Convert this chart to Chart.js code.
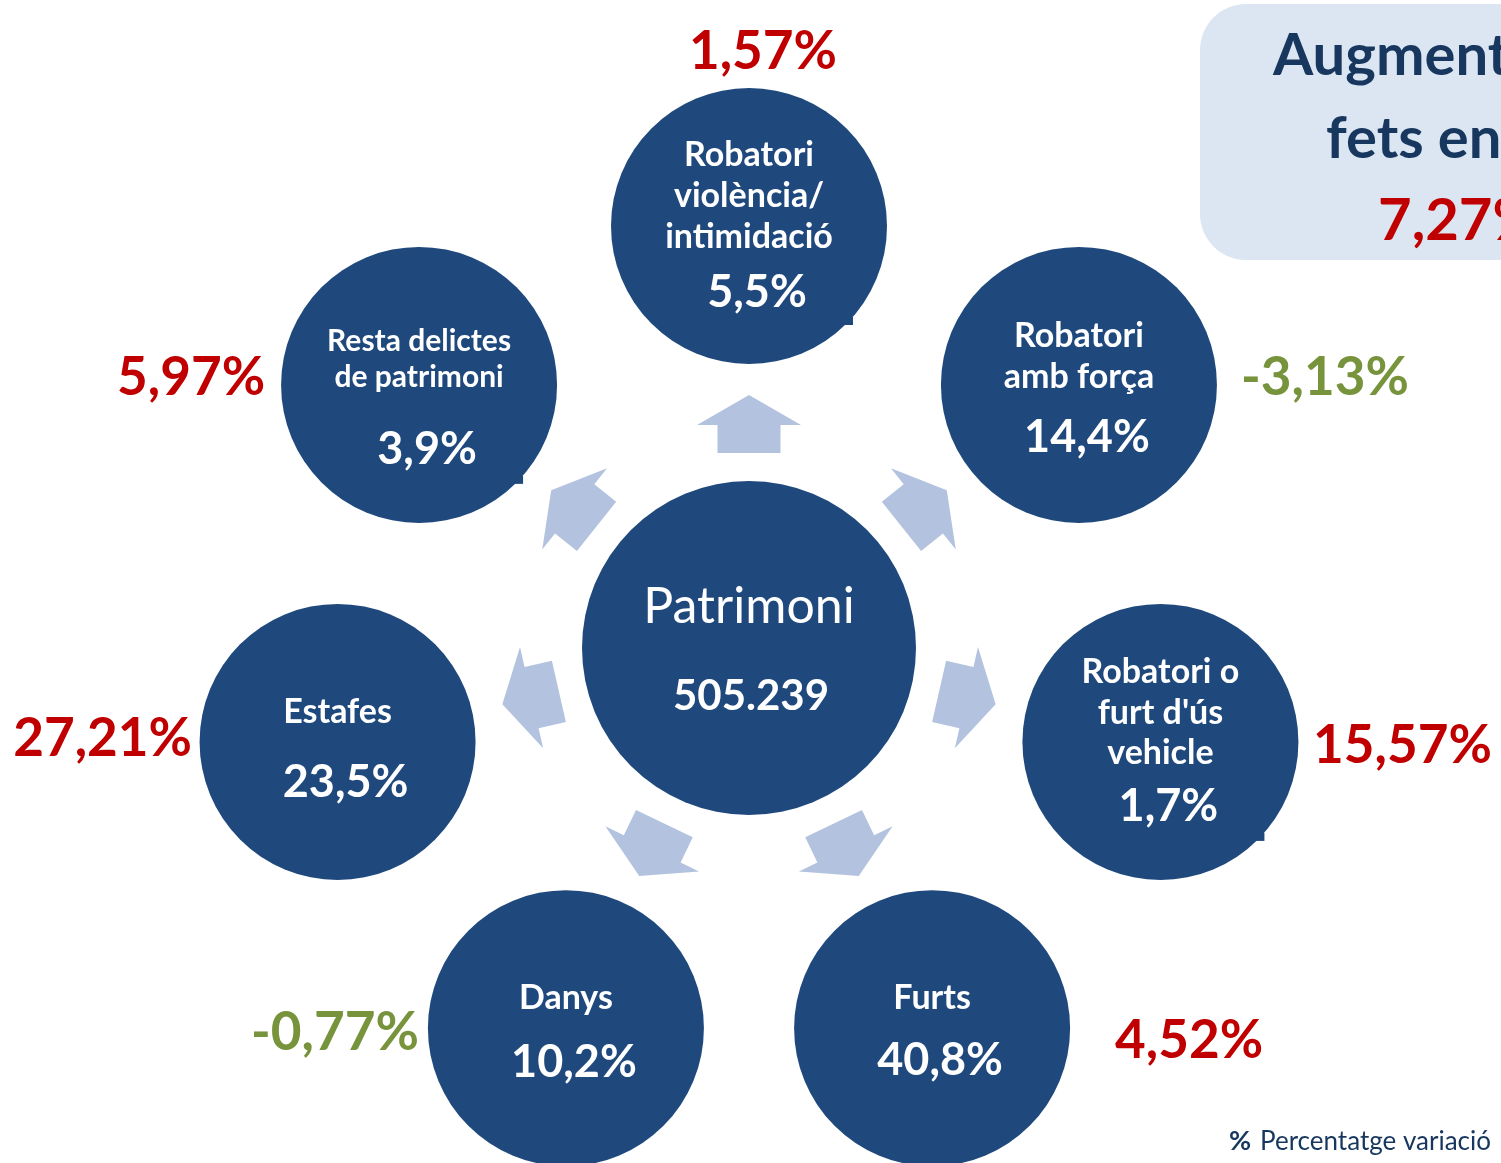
<!DOCTYPE html>
<html>
<head>
<meta charset="utf-8">
<script src="https://cdn.jsdelivr.net/npm/chart.js@4.4.1/dist/chart.umd.min.js"></script>
<style>
  html, body { margin: 0; padding: 0; background: #fff; }
  canvas { display: block; }
</style>
</head>
<body>
<canvas id="chart" width="1501" height="1163"></canvas>
<script>
// categories, clockwise starting at the top
const categories = [
  ["Robatori", "violència/", "intimidació"],
  ["Robatori", "amb força"],
  ["Robatori o", "furt d'ús", "vehicle"],
  ["Furts"],
  ["Danys"],
  ["Estafes"],
  ["Resta delictes", "de patrimoni"],
];
const shares = [5.5, 14.4, 1.7, 40.8, 10.2, 23.5, 3.9]; // % of total
const variations = [1.57, -3.13, 15.57, 4.52, -0.77, 27.21, 5.97]; // % change
const totalLabel = "Patrimoni";
const totalValue = 505239;
const totalVariation = 7.27;
const boxLines = ["Augment", "fets en"];
const footnote = "Percentatge variació";

// layout (pixels)
const CX = 749, CY = 648, ORBIT = 422;
const CENTER_R = 167, SAT_R = 138;
const varOffsets = [[14, -174], [246, -7], [242, 4], [257, 13], [-231, 5], [-235, -3], [-228, -7]];
const nameSize = [34, 34, 34, 34, 34, 34, 30];
const nameTop = [-71, -49, -70, -30, -30, -30, -44];
const pctDy = [66, 53, 65, 32, 34, 41, 65];
const cornerMarks = [0, 2, 6]; // little square tabs left over in the source

const NAVY = "#1F497D";
const DARK = "#17375E";
const RED = "#C00000";
const GREEN = "#77933C";
const ARROW = "#B3C3DF";
const FONT = "Lato, 'Open Sans', sans-serif";

const fmt = (v, d) => v.toFixed(d).replace(".", ",");
const thousands = (v) => String(v).replace(/\B(?=(\d{3})+(?!\d))/g, ".");

const angleOf = (i) => (90 - i * 360 / categories.length) * Math.PI / 180;
const satellites = categories.map((c, i) => ({ x: Math.cos(angleOf(i)), y: Math.sin(angleOf(i)) }));

const W = 1501, H = 1163;

const infographic = {
  id: "infographic",
  beforeDatasetsDraw(chart) {
    const { ctx, scales } = chart;
    const cx = scales.x.getPixelForValue(0);
    const cy = scales.y.getPixelForValue(0);
    ctx.save();
    ctx.fillStyle = ARROW;
    satellites.forEach((p, i) => {
      const a = angleOf(i);
      const ux = Math.cos(a), uy = -Math.sin(a);
      const nx = -uy, ny = ux;
      const pt = (r, w) => [cx + ux * r + nx * w, cy + uy * r + ny * w];
      const base = 195, head = 223, tip = 253, sw = 31.5, hw = 52;
      const pts = [pt(base, -sw), pt(head, -sw), pt(head, -hw), pt(tip, 0), pt(head, hw), pt(head, sw), pt(base, sw)];
      ctx.beginPath();
      pts.forEach(([x, y], k) => (k ? ctx.lineTo(x, y) : ctx.moveTo(x, y)));
      ctx.closePath();
      ctx.fill();
    });
    ctx.restore();
  },
  afterDatasetsDraw(chart) {
    const { ctx, scales } = chart;
    ctx.save();
    ctx.textAlign = "center";
    ctx.textBaseline = "middle";
    ctx.fillStyle = "#fff";

    // centre circle
    const cx = scales.x.getPixelForValue(0);
    const cy = scales.y.getPixelForValue(0);
    ctx.font = "50px " + FONT;
    ctx.fillText(totalLabel, cx, cy - 41);
    ctx.font = "bold 42px " + FONT;
    ctx.fillText(thousands(totalValue), cx + 2, cy + 48);

    satellites.forEach((p, i) => {
      const x = scales.x.getPixelForValue(p.x);
      const y = scales.y.getPixelForValue(p.y);
      if (cornerMarks.includes(i)) {
        ctx.fillStyle = NAVY;
        ctx.fillRect(x + 95, y + 91, 9, 8);
      }
      const lines = categories[i];
      const step = nameSize[i] * 1.2;
      ctx.fillStyle = "#fff";
      ctx.font = "bold " + nameSize[i] + "px " + FONT;
      lines.forEach((t, k) => ctx.fillText(t, x, y + nameTop[i] + step * k));
      ctx.font = "bold 45px " + FONT;
      ctx.fillText(fmt(shares[i], 1) + "%", x + 8, y + pctDy[i]);

      const v = variations[i];
      ctx.fillStyle = v < 0 ? GREEN : RED;
      ctx.font = "bold 53px " + FONT;
      ctx.fillText(fmt(v, 2) + "%", x + varOffsets[i][0], y + varOffsets[i][1]);
    });
    ctx.restore();
  },
  afterDraw(chart) {
    const { ctx } = chart;
    ctx.save();
    // summary box, top right (runs off the edge)
    ctx.fillStyle = "#DCE6F2";
    ctx.beginPath();
    ctx.roundRect(1200, 4, 420, 256, 46);
    ctx.fill();
    ctx.textAlign = "left";
    ctx.textBaseline = "alphabetic";
    ctx.fillStyle = DARK;
    ctx.font = "bold 58px " + FONT;
    ctx.fillText(boxLines[0], 1273, 75);
    ctx.fillText(boxLines[1], 1326, 158);
    ctx.fillStyle = RED;
    ctx.fillText(fmt(totalVariation, 2) + "%", 1378, 240);

    // footnote
    ctx.fillStyle = DARK;
    ctx.font = "bold 27px " + FONT;
    ctx.fillText("%", 1229, 1150);
    ctx.font = "26px " + FONT;
    ctx.fillText(footnote, 1260, 1150);
    ctx.restore();
  },
};

new Chart(document.getElementById("chart"), {
  type: "scatter",
  data: {
    datasets: [
      {
        label: totalLabel,
        data: [{ x: 0, y: 0 }],
        pointRadius: CENTER_R,
        pointHoverRadius: CENTER_R,
        backgroundColor: NAVY,
        borderWidth: 0,
      },
      {
        label: "Categories",
        data: satellites,
        pointRadius: SAT_R,
        pointHoverRadius: SAT_R,
        backgroundColor: NAVY,
        borderWidth: 0,
      },
    ],
  },
  options: {
    responsive: false,
    animation: false,
    events: [],
    layout: { padding: 0, autoPadding: false },
    clip: false,
    scales: {
      x: { type: "linear", display: false, min: -CX / ORBIT, max: (W - CX) / ORBIT },
      y: { type: "linear", display: false, min: -(H - CY) / ORBIT, max: CY / ORBIT },
    },
    plugins: {
      legend: { display: false },
      tooltip: { enabled: false },
      title: { display: false },
    },
  },
  plugins: [infographic],
});
</script>
</body>
</html>
